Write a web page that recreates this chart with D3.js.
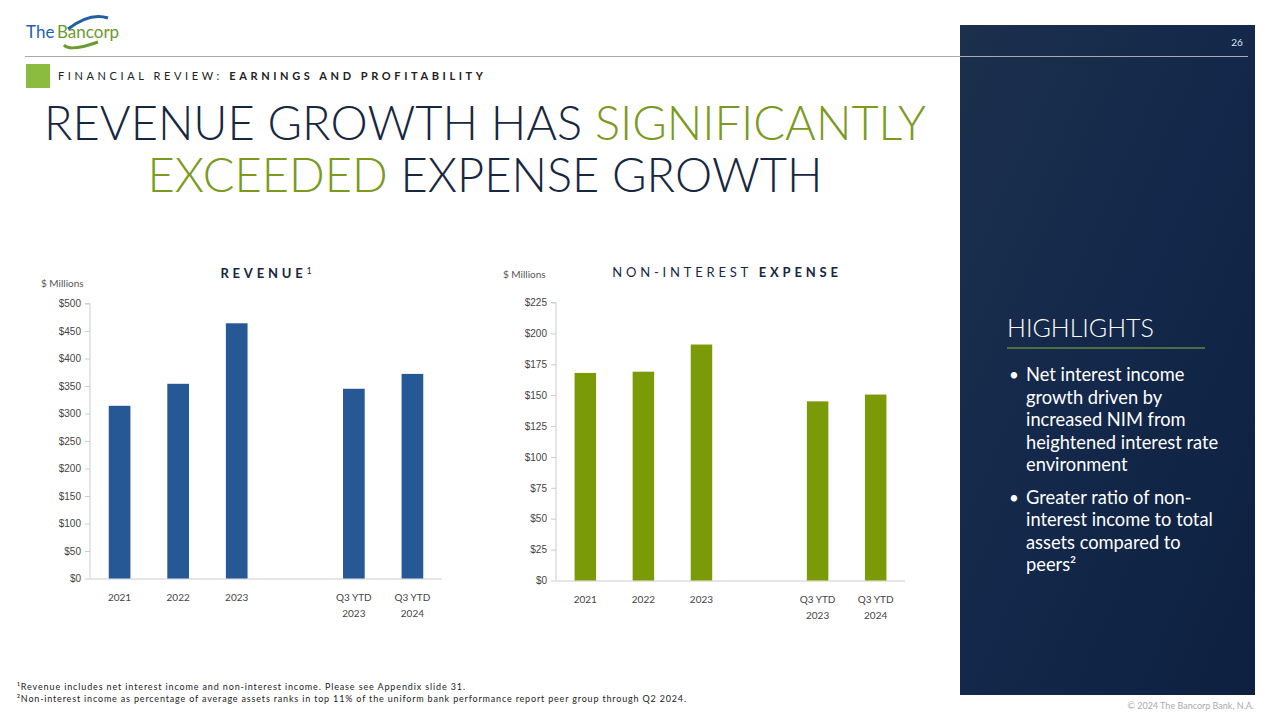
<!DOCTYPE html>
<html><head><meta charset="utf-8">
<script src="https://cdn.jsdelivr.net/npm/d3@7"></script>
<style>body{margin:0;background:#fff;font-family:Lato,sans-serif}</style>
</head><body>
<script>
const categories = ["2021", "2022", "2023", "", "Q3 YTD|2023", "Q3 YTD|2024"];
const revenue = [314, 354, 464, null, 345, 372];
const expense = [168, 169, 191, null, 145, 150.5];
const revTicks = [0, 50, 100, 150, 200, 250, 300, 350, 400, 450, 500];
const expTicks = [0, 25, 50, 75, 100, 125, 150, 175, 200, 225];

const svg = d3.select("body").append("svg").attr("width", 1280).attr("height", 720)
  .style("font-family", "Lato, sans-serif");

// right panel
const defs = svg.append("defs");
const grad = defs.append("linearGradient").attr("id", "pg").attr("x1", 0).attr("y1", 0).attr("x2", 1).attr("y2", 1);
grad.append("stop").attr("offset", "0%").attr("stop-color", "#1c2f4d");
grad.append("stop").attr("offset", "50%").attr("stop-color", "#13284a");
grad.append("stop").attr("offset", "100%").attr("stop-color", "#0d2040");
svg.append("rect").attr("x", 960).attr("y", 25).attr("width", 295).attr("height", 670).attr("fill", "url(#pg)");
svg.append("text").attr("x", 1237).attr("y", 46).attr("fill", "#dfe6ee").attr("font-size", 10).attr("text-anchor", "middle").text("26");
svg.append("text").attr("x", 1007).attr("y", 337).attr("fill", "#fff").attr("font-size", 25).attr("font-weight", 300).text("HIGHLIGHTS");
svg.append("line").attr("x1", 1007).attr("x2", 1205).attr("y1", 348).attr("y2", 348).attr("stroke", "#8fae3a");
const bullets = [["Net interest income", "growth driven by", "increased NIM from", "heightened interest rate", "environment"],
  ["Greater ratio of non-", "interest income to total", "assets compared to", "peers²"]];
let by = 381;
bullets.forEach(b => {
  svg.append("text").attr("x", 1009).attr("y", by).attr("fill", "#fff").attr("font-size", 17).text("•");
  b.forEach((l, i) => svg.append("text").attr("x", 1026).attr("y", by + i * 22.5).attr("fill", "#fff").attr("font-size", 18.3).text(l));
  by += b.length * 22.5 + 10;
});

// header
svg.append("text").attr("x", 26).attr("y", 38).attr("fill", "#1f5fa6").attr("font-size", 17).text("The");
svg.append("text").attr("x", 57).attr("y", 38).attr("fill", "#6b9a2e").attr("font-size", 17).text("Bancorp");
svg.append("path").attr("d", "M68 29 Q90 12 108 18").attr("fill", "none").attr("stroke", "#1f5fa6").attr("stroke-width", 3);
svg.append("path").attr("d", "M64 45 Q70 52 98 42").attr("fill", "none").attr("stroke", "#6b9a2e").attr("stroke-width", 3);
svg.append("line").attr("x1", 25).attr("x2", 1248).attr("y1", 56.5).attr("y2", 56.5).attr("stroke", "#aaa");
svg.append("rect").attr("x", 26).attr("y", 64).attr("width", 24).attr("height", 24).attr("fill", "#8cbc3f");
const sub = svg.append("text").attr("x", 58).attr("y", 80).attr("font-size", 11).attr("letter-spacing", 3.6).attr("fill", "#222");
sub.append("tspan").text("FINANCIAL REVIEW: ");
sub.append("tspan").attr("font-weight", "bold").text("EARNINGS AND PROFITABILITY");
const t1 = svg.append("text").attr("x", 485).attr("y", 140).attr("text-anchor", "middle").attr("font-size", 47).attr("font-weight", 300).attr("fill", "#17273f");
t1.append("tspan").text("REVENUE GROWTH HAS ");
t1.append("tspan").attr("fill", "#7c9a1e").text("SIGNIFICANTLY");
const t2 = svg.append("text").attr("x", 485).attr("y", 192).attr("text-anchor", "middle").attr("font-size", 47).attr("font-weight", 300).attr("fill", "#17273f");
t2.append("tspan").attr("fill", "#7c9a1e").text("EXCEEDED");
t2.append("tspan").text(" EXPENSE GROWTH");

function chart(opt) {
  const x = d3.scaleBand().domain(categories).range([opt.x0, opt.x1]).paddingInner(0.63).paddingOuter(0.32);
  const y = d3.scaleLinear().domain([0, opt.max]).range([opt.yb, opt.yt]);
  const g = svg.append("g");
  const ya = g.append("g").attr("transform", `translate(${opt.x0},0)`)
    .call(d3.axisLeft(y).tickValues(opt.ticks).tickSize(5).tickFormat(d => "$" + d));
  ya.select(".domain").attr("stroke", "#ccc").attr("d", `M-5,${opt.yt}H0V${opt.yb}`);
  ya.selectAll(".tick line").attr("stroke", "#ccc");
  ya.selectAll(".tick text").attr("fill", "#444").attr("font-size", 10).attr("x", -9);
  g.append("line").attr("x1", opt.x0).attr("x2", opt.x1).attr("y1", opt.yb + 0.5).attr("y2", opt.yb + 0.5).attr("stroke", "#ccc");
  g.selectAll("rect").data(categories.map((c, i) => ({c, v: opt.values[i]})).filter(d => d.v != null))
    .enter().append("rect")
    .attr("x", d => x(d.c)).attr("width", x.bandwidth())
    .attr("y", d => y(d.v)).attr("height", d => opt.yb - y(d.v)).attr("fill", opt.color);
  categories.filter(c => c).forEach(c => {
    c.split("|").forEach((l, i) => g.append("text").attr("x", x(c) + x.bandwidth() / 2).attr("y", opt.yb + 22 + i * 16)
      .attr("text-anchor", "middle").attr("font-size", 10).attr("fill", "#444").text(l));
  });
  g.append("text").attr("x", opt.unitX).attr("y", opt.unitY).attr("font-size", 10).attr("fill", "#555").text("$ Millions");
  const tt = g.append("text").attr("x", opt.titleX).attr("y", opt.titleY).attr("text-anchor", "middle")
    .attr("font-size", 13).attr("letter-spacing", 3.8).attr("fill", "#17273f");
  opt.title(tt);
}

chart({x0: 90, x1: 442, yb: 578.5, yt: 303.5, max: 500, ticks: revTicks, values: revenue, color: "#265896",
  unitX: 41, unitY: 287, titleX: 268, titleY: 278,
  title: t => { t.append("tspan").attr("font-weight", "bold").text("REVENUE"); t.append("tspan").attr("font-size", 9).attr("dy", -4).text("1"); }});
chart({x0: 556, x1: 905, yb: 580.5, yt: 302.5, max: 225, ticks: expTicks, values: expense, color: "#7a9a08",
  unitX: 503, unitY: 278, titleX: 727, titleY: 277,
  title: t => { t.append("tspan").text("NON-INTEREST "); t.append("tspan").attr("font-weight", "bold").text("EXPENSE"); }});

// footnotes
svg.append("text").attr("x", 17).attr("y", 690).attr("font-size", 9).attr("fill", "#222").attr("textLength", 448).text("¹Revenue includes net interest income and non-interest income.  Please see Appendix slide 31.");
svg.append("text").attr("x", 17).attr("y", 702).attr("font-size", 9).attr("fill", "#222").attr("textLength", 669).text("²Non-interest income as percentage of average assets ranks in top 11% of the uniform bank performance report peer group through Q2 2024.");
svg.append("text").attr("x", 1254).attr("y", 709).attr("text-anchor", "end").attr("font-size", 9).attr("fill", "#aaa").text("© 2024 The Bancorp Bank, N.A.");
</script>
</body></html>
